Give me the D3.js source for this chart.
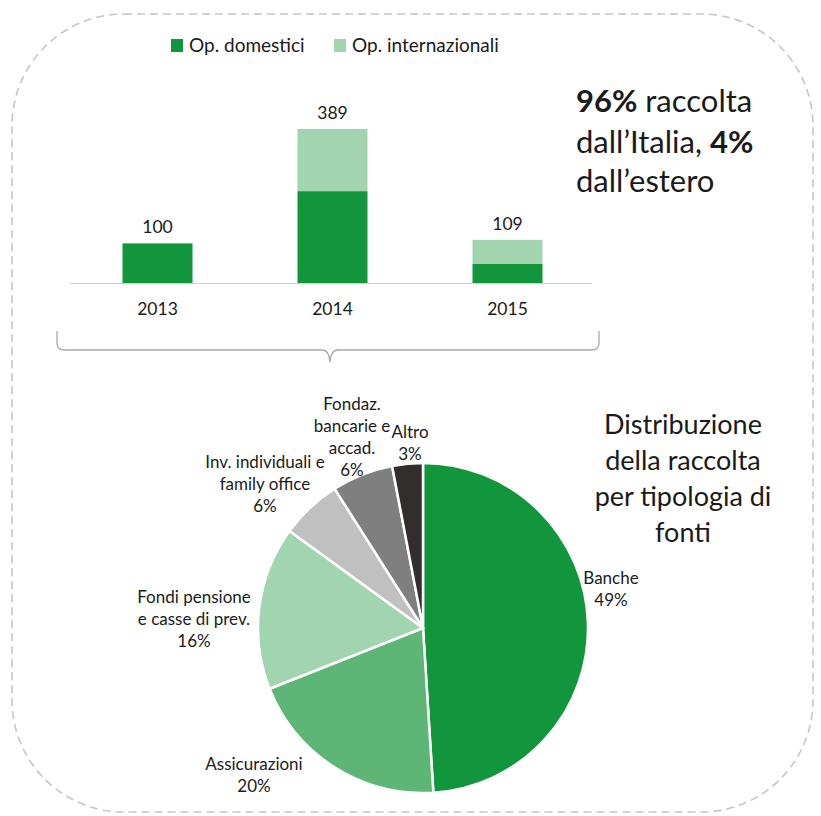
<!DOCTYPE html>
<html><head><meta charset="utf-8">
<script src="https://cdn.jsdelivr.net/npm/d3@7"></script>
<style>
html,body{margin:0;padding:0;background:#fff;}
text{font-family:Lato,"Open Sans",sans-serif;fill:#1a1a1a;}
</style></head>
<body><svg id="c" width="821" height="816"></svg>
<script>
// ---- data ----
const years = ["2013", "2014", "2015"];
const domestic = [100, 232, 48];
const international = [0, 157, 61];
const totals = [100, 389, 109];
const seriesNames = ["Op. domestici", "Op. internazionali"];

const pieCategories = ["Banche", "Assicurazioni", "Fondi pensione e casse di prev.", "Inv. individuali e family office", "Fondaz. bancarie e accad.", "Altro"];
const pieValues = [49, 20, 16, 6, 6, 3];
const pieLabelLines = [["Banche"], ["Assicurazioni"], ["Fondi pensione", "e casse di prev."], ["Inv. individuali e", "family office"], ["Fondaz.", "bancarie e", "accad."], ["Altro"]];

// ---- layout / style ----
const green = "#11963c", lightGreen = "#a1d5b0";
const pieColors = ["#11963c", "#5db576", "#a1d5b0", "#c0c0c0", "#7f7f7f", "#322e2e"];
const svg = d3.select("#c");

// dashed rounded frame
svg.append("rect").attr("x", 12).attr("y", 14).attr("width", 801).attr("height", 798)
  .attr("rx", 112).attr("ry", 112).attr("fill", "none").attr("stroke", "#c6c6c6")
  .attr("stroke-width", 1.6).attr("stroke-dasharray", "8,5");

// ---- bar chart ----
const x = d3.scaleBand().domain(years).range([70, 595]).paddingInner(0.6).paddingOuter(0.3);
const y = d3.scaleLinear().domain([0, 400]).range([283, 124.6]);
const rows = years.map((yr, i) => ({year: yr, d: domestic[i], n: international[i]}));
const stack = d3.stack().keys(["d", "n"])(rows);
const colors = [green, lightGreen];

svg.append("g").selectAll("g").data(stack).join("g").attr("fill", (s, i) => colors[i])
  .selectAll("rect").data(s => s).join("rect")
  .attr("x", d => x(d.data.year)).attr("width", x.bandwidth())
  .attr("y", d => y(d[1])).attr("height", d => y(d[0]) - y(d[1]));

// axis line
svg.append("line").attr("x1", 70).attr("x2", 592).attr("y1", y(0) + 0.5).attr("y2", y(0) + 0.5)
  .attr("stroke", "#d0d0d0").attr("stroke-width", 1.2);

// totals
svg.append("g").selectAll("text").data(years).join("text")
  .attr("x", d => x(d) + x.bandwidth() / 2).attr("y", (d, i) => y(totals[i]) - 10)
  .attr("text-anchor", "middle").attr("font-size", 17.5).text((d, i) => totals[i]);

// year labels
svg.append("g").selectAll("text").data(years).join("text")
  .attr("x", d => x(d) + x.bandwidth() / 2).attr("y", 315)
  .attr("text-anchor", "middle").attr("font-size", 17.5).text(d => d);

// legend
const legX = [171, 334];
const leg = svg.append("g").selectAll("g").data(seriesNames).join("g")
  .attr("transform", (d, i) => `translate(${legX[i]},39)`);
leg.append("rect").attr("width", 12).attr("height", 13).attr("fill", (d, i) => colors[i]);
leg.append("text").attr("x", 18).attr("y", 13).attr("font-size", 19).text(d => d);

// big note
const note = svg.append("text").attr("font-size", 31);
const l1 = note.append("tspan").attr("x", 576).attr("y", 112);
l1.append("tspan").attr("font-weight", "bold").text("96%");
l1.append("tspan").text(" raccolta");
const l2 = note.append("tspan").attr("x", 576).attr("y", 153);
l2.append("tspan").text("dall\u2019Italia, ");
l2.append("tspan").attr("font-weight", "bold").text("4%");
note.append("tspan").attr("x", 576).attr("y", 192).text("dall\u2019estero");

// brace
const bp = d3.path();
bp.moveTo(57, 331); bp.lineTo(57, 343); bp.quadraticCurveTo(57, 350, 65, 350);
bp.lineTo(322, 350); bp.quadraticCurveTo(329, 350, 330, 362);
bp.quadraticCurveTo(331, 350, 338, 350);
bp.lineTo(591, 350); bp.quadraticCurveTo(599, 350, 599, 343); bp.lineTo(599, 331);
svg.append("path").attr("d", bp.toString()).attr("fill", "none").attr("stroke", "#a8a8a8").attr("stroke-width", 1.3);

// ---- pie ----
const cx = 423, cy = 628, r = 165;
const arcs = d3.pie().sort(null).value(d => d)(pieValues);
const arc = d3.arc().innerRadius(0).outerRadius(r);
const pg = svg.append("g").attr("transform", `translate(${cx},${cy})`);
pg.selectAll("path").data(arcs).join("path").attr("d", arc)
  .attr("fill", (d, i) => pieColors[i]).attr("stroke", "#fff").attr("stroke-width", 2.5).attr("stroke-linejoin", "round");

// pie labels (first-line baseline of each label block, relative to pie center)
const labelPos = [[188, -44], [-169, 142], [-229, -25], [-158, -160], [-71, -218], [-13, -190]];
const lineH = 22;
pieLabelLines.forEach((lines, i) => {
  const all = lines.concat([pieValues[i] + "%"]);
  const t = pg.append("text").attr("text-anchor", "middle").attr("font-size", 17);
  all.forEach((s, j) => t.append("tspan").attr("x", labelPos[i][0]).attr("y", labelPos[i][1] + j * lineH).text(s));
});

// pie title
const tl = ["Distribuzione", "della raccolta", "per tipologia di", "fonti"];
const tt = svg.append("text").attr("text-anchor", "middle").attr("font-size", 27);
tl.forEach((s, j) => tt.append("tspan").attr("x", 683).attr("y", 434 + j * 36).text(s));
</script></body></html>
